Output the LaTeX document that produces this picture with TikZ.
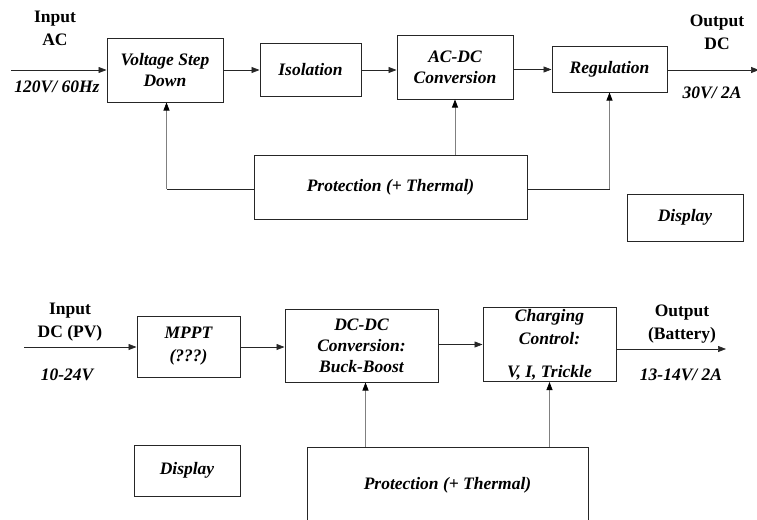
\documentclass[tikz,border=0pt]{standalone}
\usepackage{fontspec}
\setmainfont{Liberation Serif}
\usetikzlibrary{arrows.meta}
\begin{document}
\begin{tikzpicture}[x=1pt,y=-1pt,
  box/.style={draw=black!85,line width=1pt,rectangle,inner sep=0pt,align=center,
    font=\fontsize{17.5}{21}\selectfont\bfseries\itshape},
  lbl/.style={inner sep=0pt,align=center,font=\fontsize{17.5}{23}\selectfont\bfseries},
  ilbl/.style={inner sep=0pt,align=center,font=\fontsize{17.5}{21}\selectfont\bfseries\itshape},
  conn/.style={line width=0.7pt,draw=black!85,-{Triangle[length=8pt,width=6pt]}},
  vconn/.style={line width=0.8pt,draw=black!50,-{Triangle[length=8pt,width=6pt,color=black]}},
  plain/.style={line width=0.8pt,draw=black!85}]
\useasboundingbox (0,0) rectangle (757,519);
\clip (0,0) rectangle (757,519);
% ---- top diagram ----
\node[box,minimum width=116pt,minimum height=63pt] (vsd) at (165,70.5) {Voltage Step\\Down};
\node[box,minimum width=101pt,minimum height=52pt] (iso) at (310.5,70) {Isolation};
\node[box,minimum width=116pt,minimum height=63pt] (acdc) at (455,67.5) {AC-DC\\Conversion};
\node[box,minimum width=115pt,minimum height=45pt] (reg) at (609.5,69.5) {Regulation};
\node[box,minimum width=273pt,minimum height=64pt] (prot1) at (390.5,187) {Protection (+ Thermal)};
\node[box,minimum width=116pt,minimum height=47pt] (disp1) at (685,217.5) {Display};
\node[lbl] (inac) at (55,28) {Input\\AC};
\node[ilbl] (v120) at (57,87) {120V/ 60Hz};
\node[lbl] (outdc) at (717,32) {Output\\DC};
\node[ilbl] (v30) at (712,93) {30V/ 2A};
\coordinate (in1) at (11,70);
\coordinate (out1) at (757,70);
\draw[conn] (in1) -- (in1 -| vsd.west);
\draw[conn] (vsd.east |- iso.west) -- (iso.west);
\draw[conn] (iso.east) -- (iso.east -| acdc.west);
\draw[conn] (acdc.east |- reg.west) -- (reg.west);
\draw[conn] (out1 -| reg.east) -- ([xshift=2pt]out1);
\draw[plain] ([yshift=-2pt]prot1.west) -- ++(-87,0) coordinate (c1);
\draw[vconn] (c1) -- (c1 |- vsd.south);
\draw[vconn] (prot1.north -| acdc.south) -- (acdc.south);
\draw[plain] ([yshift=-2pt]prot1.east) -- ++(82,0) coordinate (c2);
\draw[vconn] (c2) -- (c2 |- reg.south);
% ---- bottom diagram ----
\node[box,minimum width=103pt,minimum height=61pt] (mppt) at (188.5,346.5) {MPPT\\[2pt](???)};
\node[box,minimum width=153pt,minimum height=73pt] (dcdc) at (361.5,345.5) {DC-DC\\Conversion:\\Buck-Boost};
\node[box,minimum width=133pt,minimum height=74pt,font=\fontsize{17.5}{23}\selectfont\bfseries\itshape] (chg) at (549.5,344.5) {Charging\\Control:\\[10pt]V, I, Trickle};
\node[box,minimum width=106pt,minimum height=51pt] (disp2) at (187,470.5) {Display};
\node[box,minimum width=281pt,minimum height=90pt] (prot2) at (447.5,492) {};
\node[ilbl] (prot2t) at (447.5,485) {Protection (+ Thermal)};
\node[lbl] (indc) at (70,322) {Input\\DC (PV)};
\node[ilbl] (v1024) at (67,375) {10-24V};
\node[lbl] (outbat) at (682,324) {Output\\(Battery)};
\node[ilbl] (v1314) at (681,375) {13-14V/ 2A};
\coordinate (in2) at (24,347);
\coordinate (out2) at (726,349);
\draw[conn] (in2) -- (in2 -| mppt.west);
\draw[conn] (mppt.east |- in2) -- (in2 -| dcdc.west);
\draw[conn] (dcdc.east |- chg.west) -- (chg.west);
\draw[conn] (out2 -| chg.east) -- (out2);
\draw[vconn] ([xshift=4pt]prot2.north -| dcdc.south) -- ([xshift=4pt]dcdc.south);
\draw[vconn] (prot2.north -| chg.south) -- (chg.south);
\end{tikzpicture}
\end{document}
